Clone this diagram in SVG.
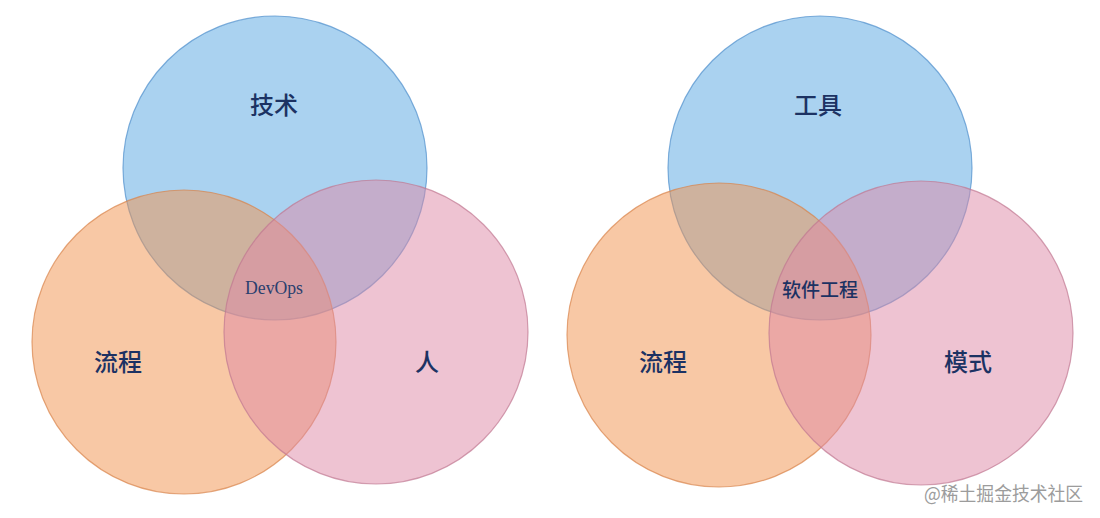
<svg xmlns="http://www.w3.org/2000/svg" width="1100" height="518" viewBox="0 0 1100 518">
<style>
.blue{fill:#55a5e1;fill-opacity:.5;stroke:#4f8fcc;stroke-opacity:.7;stroke-width:1.2}
.orange{fill:#f1914b;fill-opacity:.5;stroke:#d9834a;stroke-opacity:.7;stroke-width:1.2}
.pink{fill:#dd87a5;fill-opacity:.5;stroke:#c07892;stroke-opacity:.7;stroke-width:1.2}
.lbl{font-family:"Noto Sans CJK SC","Liberation Serif",serif;font-size:24px;font-weight:500;fill:#1c3263;text-anchor:middle;dominant-baseline:central}
.mid{font-family:"Liberation Serif","Noto Sans CJK SC",serif;font-size:18px;fill:#2a3f6e;text-anchor:middle;dominant-baseline:central}
.wm{font-family:"Noto Sans CJK SC","Liberation Sans",sans-serif;font-size:19px;fill:#9c9c9c}
</style>
<rect width="1100" height="518" fill="#ffffff"/>
<g id="left-diagram">
  <g id="tech"><circle class="blue" cx="275" cy="168" r="152"/></g>
  <g id="process-left"><circle class="orange" cx="184" cy="342" r="152"/></g>
  <g id="people"><circle class="pink" cx="376" cy="332" r="152"/></g>
  <text class="lbl" x="274" y="103">技术</text>
  <text class="lbl" x="118" y="360">流程</text>
  <text class="lbl" x="427" y="360">人</text>
  <text class="mid" x="274" y="288" textLength="58" lengthAdjust="spacingAndGlyphs">DevOps</text>
</g>
<g id="right-diagram">
  <g id="tools"><circle class="blue" cx="820" cy="168" r="152"/></g>
  <g id="process-right"><circle class="orange" cx="719" cy="335" r="152"/></g>
  <g id="patterns"><circle class="pink" cx="921" cy="333" r="152"/></g>
  <text class="lbl" x="818" y="103">工具</text>
  <text class="lbl" x="663" y="360">流程</text>
  <text class="lbl" x="968" y="360">模式</text>
  <text class="lbl" x="820" y="288" style="font-size:19px">软件工程</text>
</g>
<g id="connectors"></g>
<text class="wm" x="924" y="501" textLength="159" lengthAdjust="spacingAndGlyphs">@稀土掘金技术社区</text>
</svg>
